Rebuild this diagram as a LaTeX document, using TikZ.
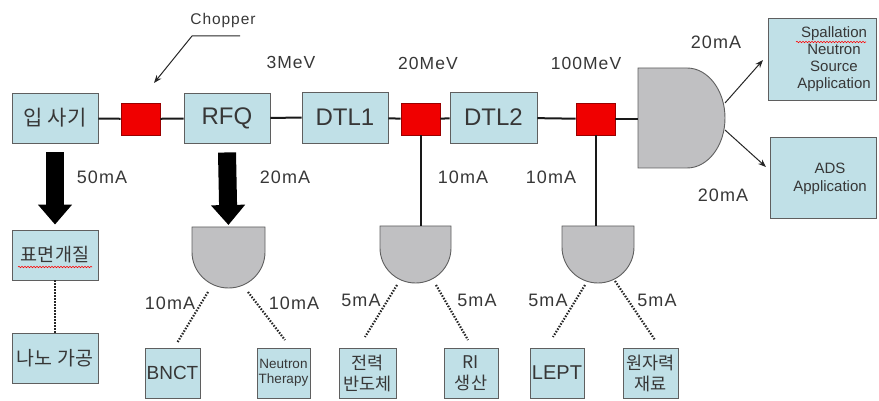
\documentclass[tikz,border=0pt]{standalone}
\usepackage{fontspec}
\setmainfont{Liberation Sans}
\newfontfamily\wide[LetterSpace=6]{Liberation Sans}
\newfontfamily\kr{Noto Sans CJK KR}
\usetikzlibrary{arrows.meta,decorations.pathmorphing}
\definecolor{boxblue}{RGB}{192,224,231}
\definecolor{gatecol}{RGB}{192,192,194}
\definecolor{txt}{RGB}{55,55,55}
\definecolor{edge}{RGB}{95,95,95}
\definecolor{chred}{RGB}{240,0,0}
\begin{document}
\begin{tikzpicture}[x=1pt,y=-1pt,
  box/.style={draw=edge,line width=0.9pt,fill=boxblue,inner sep=0pt,align=center,text=txt},
  chop/.style={draw=red!60!black,line width=0.8pt,fill=chred,minimum width=39pt,minimum height=32pt,inner sep=0pt},
  gate/.style={draw=edge,line width=0.9pt,fill=gatecol},
  beam/.style={line width=2pt,black!90},
  dots/.style={line width=2.2pt,dash pattern=on 1.5pt off 1.5pt,black!85},
  fat/.style={line width=18pt,black,-{Triangle[width=33pt,length=20pt]}},
  thinarr/.style={line width=1pt,black!85,-{Stealth[length=8pt,width=6pt]}},
  lbl/.style={text=txt,inner sep=0pt,font=\wide\fontsize{18}{20}\selectfont},
  mev/.style={text=txt,inner sep=0pt,font=\wide\fontsize{17.5}{19}\selectfont},
  big/.style={font=\fontsize{24}{26}\selectfont},
  wavy/.style={red,line width=0.6pt,decorate,decoration={snake,amplitude=0.7pt,segment length=3pt}}
]
\useasboundingbox (0,0) rectangle (879,401);

% top chain
\node[box,minimum width=86pt,minimum height=50pt,font=\kr\fontsize{21}{24}\selectfont] (src) at (55,118) {입 사기};
\node[chop] (ch1) at (140.5,119) {};
\node[box,big,minimum width=86pt,minimum height=50pt] (rfq) at (227,118) {RFQ};
\node[box,big,minimum width=86pt,minimum height=51pt] (dtl1) at (345,117.5) {DTL1};
\node[chop] (ch2) at (420.5,119) {};
\node[box,big,minimum width=87pt,minimum height=51pt] (dtl2) at (493.5,117.5) {DTL2};
\node[chop] (ch3) at (595.5,119) {};

% big splitter
\draw[gate] (638,68) -- (687,68) arc[start angle=90,end angle=-90,x radius=38pt,y radius=50pt] -- (638,168) -- cycle;
\coordinate (bDin) at (638,119);
\coordinate (bDa) at (725,103);
\coordinate (bDb) at (725,130);

\draw[beam] (src) -- (ch1);
\draw[beam] (ch1) -- (rfq);
\draw[beam] (rfq) -- (dtl1);
\draw[beam] (dtl1) -- (ch2);
\draw[beam] (ch2) -- (dtl2);
\draw[beam] (dtl2) -- (ch3);
\draw[beam] (ch3) -- (bDin);

% energy labels
\node[mev] (e3) at (291,62) {3MeV};
\node[mev] (e20) at (428,63) {20MeV};
\node[mev] (e100) at (586,63) {100MeV};

% chopper
\node[text=txt,inner sep=0pt,font=\wide\fontsize{15.5}{17}\selectfont] (choplbl) at (223,20) {Chopper};
\coordinate (chA) at (240,36);
\coordinate (chB) at (192,36);
\coordinate (chtip) at (154,83);
\draw[thinarr] (chA) -- (chB) -- (chtip);

% right applications
\node[box,minimum width=108pt,minimum height=82pt] (spl) at (822,59) {};
\node[text=txt,inner sep=0pt,align=center,font=\fontsize{15}{17}\selectfont] (spltxt) at (834,59) {Spallation\\Neutron\\Source\\Application};
\draw[wavy] (796,42) -- (866,42);
\node[box,minimum width=106pt,minimum height=81pt] (ads) at (823,177.5) {};
\node[text=txt,inner sep=0pt,align=center,font=\fontsize{15}{18}\selectfont] (adstxt) at (830,179) {ADS\\Application};
\coordinate (a1e) at (763,60);
\coordinate (a2e) at (766,167);
\draw[thinarr] (bDa) -- (a1e);
\draw[thinarr] (bDb) -- (a2e);
\node[lbl] (m20a) at (716,42) {20mA};
\node[lbl] (m20b) at (723,195) {20mA};

% left branch
\node[box,minimum width=86pt,minimum height=50pt,font=\kr\fontsize{18.5}{20}\selectfont] (sfc) at (55,255) {표면개질};
\draw[wavy] (18,267) -- (92,267);
\node[box,minimum width=86pt,minimum height=50pt,font=\kr\fontsize{19.5}{21}\selectfont] (nano) at (55,358) {나노 가공};
\draw[fat] (src.south) ++(0,9) -- (sfc.north) [shorten >=5pt];
\draw[dots] (sfc) -- (nano);
\node[lbl] (m50) at (102,177) {50mA};

% RFQ branch
\draw[gate] (192,227) -- (265,227) -- (265,252) arc[start angle=0,end angle=-180,x radius=36.5pt,y radius=36pt] -- cycle;
\coordinate (g1top) at (228.5,227);
\draw[fat,shorten >=2pt] (rfq.south) ++(0,9) -- (g1top);
\node[lbl] (m20c) at (285,177) {20mA};
\node[box,minimum width=55pt,minimum height=50pt,font=\fontsize{19}{20}\selectfont] (bnct) at (172.5,373) {BNCT};
\node[box,minimum width=53pt,minimum height=50pt,font=\fontsize{13.5}{15}\selectfont] (nt) at (283.5,373) {Neutron\\Therapy};
\coordinate (g1l) at (208,292); \coordinate (g1le) at (177,343);
\coordinate (g1r) at (248,292); \coordinate (g1re) at (285,340);
\draw[dots] (g1l) -- (g1le);
\draw[dots] (g1r) -- (g1re);
\node[lbl] (m10a) at (170,303) {10mA};
\node[lbl] (m10b) at (294,303) {10mA};

% DTL1 branch
\draw[gate] (380,226) -- (451,226) -- (451,248) arc[start angle=0,end angle=-180,x radius=35.5pt,y radius=35pt] -- cycle;
\coordinate (g2top) at (415.5,226);
\draw[beam] (ch2) -- (ch2 |- g2top);
\node[lbl] (m10c) at (463,177) {10mA};
\node[box,minimum width=57pt,minimum height=50pt,font=\kr\fontsize{17.5}{21}\selectfont] (semi) at (367.5,373) {전력\\반도체};
\node[box,minimum width=54pt,minimum height=50pt,font=\kr\fontsize{17.5}{21}\selectfont] (ri) at (471,373) {RI\\생산};
\coordinate (g2l) at (397,285); \coordinate (g2le) at (365,337);
\coordinate (g2r) at (436,285); \coordinate (g2re) at (468,340);
\draw[dots] (g2l) -- (g2le);
\draw[dots] (g2r) -- (g2re);
\node[lbl] (m5a) at (361,300) {5mA};
\node[lbl] (m5b) at (477,300) {5mA};

% DTL2 branch
\draw[gate] (562,226) -- (634,226) -- (634,247) arc[start angle=0,end angle=-180,x radius=36pt,y radius=36pt] -- cycle;
\coordinate (g3top) at (598,226);
\draw[beam] (ch3) -- (ch3 |- g3top);
\node[lbl] (m10d) at (551,177) {10mA};
\node[box,minimum width=54pt,minimum height=50pt,font=\fontsize{20}{22}\selectfont] (lept) at (557,373) {LEPT};
\node[box,minimum width=55pt,minimum height=50pt,font=\kr\fontsize{17.5}{21}\selectfont] (nuc) at (650.5,373) {원자력\\재료};
\coordinate (g3l) at (585,285); \coordinate (g3le) at (553,337);
\coordinate (g3r) at (615,281); \coordinate (g3re) at (655,340);
\draw[dots] (g3l) -- (g3le);
\draw[dots] (g3r) -- (g3re);
\node[lbl] (m5c) at (548,300) {5mA};
\node[lbl] (m5d) at (657,300) {5mA};
\end{tikzpicture}
\end{document}
